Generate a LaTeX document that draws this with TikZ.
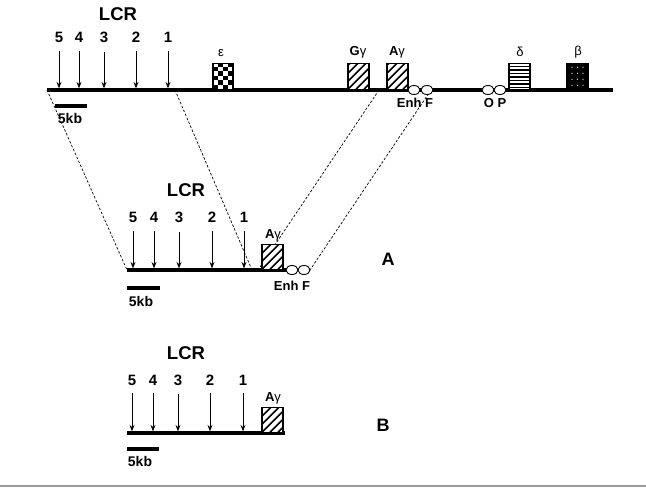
\documentclass[tikz,border=0pt]{standalone}
\usepackage{fontspec}
\setmainfont{Liberation Sans}
\usetikzlibrary{arrows.meta, positioning, shapes.geometric}
\definecolor{rulegray}{HTML}{9A9A9A}

\tikzset{
  dna/.style={line width=3.2pt},
  scalebar/.style={line width=3.2pt},
  site/.style={-{Stealth[length=6.5pt,width=5pt]}, line width=1pt, shorten <=9pt, shorten >=1.6pt},
  zoomline/.style={line width=0.7pt, dash pattern=on 2.5pt off 1.8pt},
  num/.style={font=\fontsize{15}{17}\selectfont\bfseries, inner sep=0pt},
  lcrlab/.style={font=\fontsize{18.5}{21}\selectfont\bfseries, inner sep=0pt},
  genelab/.style={font=\fontsize{13}{15}\selectfont\bfseries, inner sep=0pt},
  kblab/.style={font=\fontsize{14}{16}\selectfont\bfseries, inner sep=0pt},
  panellab/.style={font=\fontsize{18}{20}\selectfont\bfseries, inner sep=0pt},
  genebox/.style={draw, fill=white, line width=1.5pt, inner sep=0pt, anchor=south,
    minimum width=21pt, minimum height=26pt},
  hatchbox/.style={genebox, path picture={
      \foreach \s in {-32,-24,...,24}
        \draw[black, line width=1.7pt] ([xshift=\s pt]path picture bounding box.south west) -- ++(34pt,34pt);}},
  checkbox/.style={genebox, minimum width=20pt, path picture={
      \foreach \i in {0,...,3}
        \foreach \j in {0,...,5} {
          \pgfmathtruncatemacro\cell{mod(\i+\j,2)}
          \ifnum\cell=0
            \fill[black] ([xshift=\i*5pt, yshift=\j*4.5pt]path picture bounding box.south west) rectangle ++(5pt,4.5pt);
          \fi}}},
  stripebox/.style={genebox, path picture={
      \foreach \j in {2,5.5,...,24}
        \draw[black, line width=1.5pt] ([yshift=\j pt]path picture bounding box.south west) -- ++(22pt,0);}},
  dotbox/.style={genebox, fill=black, path picture={
      \foreach \i in {5,10.5,16}
        \foreach \j in {4,10,16,22}
          \fill[white] ([xshift=\i pt, yshift=\j pt]path picture bounding box.south west) circle (0.6pt);}},
  enh/.style={draw, ellipse, fill=white, line width=0.9pt, inner sep=0pt,
    minimum width=12pt, minimum height=9pt}
}

\begin{document}
\begin{tikzpicture}[x=1pt, y=-1pt]
  \useasboundingbox (0,0) rectangle (646,490);

  % Bezugspunkte der Linien
  \coordinate (topL) at (47,90);
  \coordinate (topR) at (613,90);
  \coordinate (cutLCR) at (175,90);
  \coordinate (cutAg) at (379,90);
  \coordinate (cutF) at (431,90);
  \coordinate (midL) at (127,270);
  \coordinate (midR) at (287,270);
  \coordinate (midLCR) at (252,270);
  \coordinate (midAg) at (258,270);
  \coordinate (midF) at (310,270);
  \coordinate (botL) at (127,433);
  \coordinate (botR) at (285,433);

  % Gestrichelte Zuordnung
  \draw[zoomline] (topL) -- (midL);
  \draw[zoomline] (cutLCR) -- (midLCR);
  \draw[zoomline] (cutAg) -- (midAg);
  \draw[zoomline] (cutF) -- (midF);

  % Obere Linie (ganzer Locus)
  \draw[dna] (topL) -- (topR);
  \node[lcrlab] (lcrT) at (118,14) {LCR};
  \foreach \n/\x in {5/59,4/79,3/104,2/136,1/168} {
    \node[num] (t\n) at (\x,37) {\n};
    \draw[site] (t\n) -- (t\n |- topL);
  }
  \node[checkbox] (eps) at (223,90) {};
  \node[hatchbox] (gGT) at (358.5,90) {};
  \node[hatchbox] (aGT) at (397.5,90) {};
  \node[stripebox] (delta) at (519.5,90) {};
  \node[dotbox] (beta) at (577.5,90) {};
  \node[genelab] at (221,53) {\mdseries ε};
  \node[genelab] at (358,52) {G\mdseries γ};
  \node[genelab] at (397,52) {A\mdseries γ};
  \node[genelab] at (520,52) {\mdseries δ};
  \node[genelab] at (578,52) {\mdseries β};
  \node[enh] (enhT) at (414,90) {};
  \node[enh] (fT) at (427,90) {};
  \node[enh] (oT) at (488,90) {};
  \node[enh] (pT) at (500,90) {};
  \node[genelab] at (415,103) {Enh F};
  \node[genelab] at (495,103) {O P};
  \draw[scalebar] (55,106) -- (87,106);
  \node[kblab] at (70,118) {5kb};

  % Konstrukt A
  \draw[dna] (midL) -- (midR);
  \node[lcrlab] (lcrA) at (186,190) {LCR};
  \foreach \n/\x in {5/133,4/154,3/179,2/212,1/244} {
    \node[num] (a\n) at (\x,217) {\n};
    \draw[site] (a\n) -- (a\n |- midL);
  }
  \node[hatchbox, minimum height=25pt] (aGA) at (272.5,270) {};
  \node[genelab] at (273,235) {A\mdseries γ};
  \node[enh] (enhA) at (292,270) {};
  \node[enh] (fA) at (304,270) {};
  \node[genelab] at (292,286) {Enh F};
  \draw[scalebar] (127,288) -- (160,288);
  \node[kblab] at (141,301) {5kb};
  \node[panellab] (labA) at (388,259) {A};

  % Konstrukt B
  \draw[dna] (botL) -- (botR);
  \node[lcrlab] (lcrB) at (186,353) {LCR};
  \foreach \n/\x in {5/132,4/153,3/178,2/210,1/243} {
    \node[num] (b\n) at (\x,380) {\n};
    \draw[site, shorten <=8pt] (b\n) -- (b\n |- botL);
  }
  \node[hatchbox, minimum height=25pt] (aGB) at (272.5,433) {};
  \node[genelab] at (273,398) {A\mdseries γ};
  \draw[scalebar] (127,449) -- (159,449);
  \node[kblab] at (140,461) {5kb};
  \node[panellab] (labB) at (383,425) {B};

  % Trennlinie
  \draw[rulegray, line width=2.4pt] (0,486) -- (646,486);
\end{tikzpicture}
\end{document}
